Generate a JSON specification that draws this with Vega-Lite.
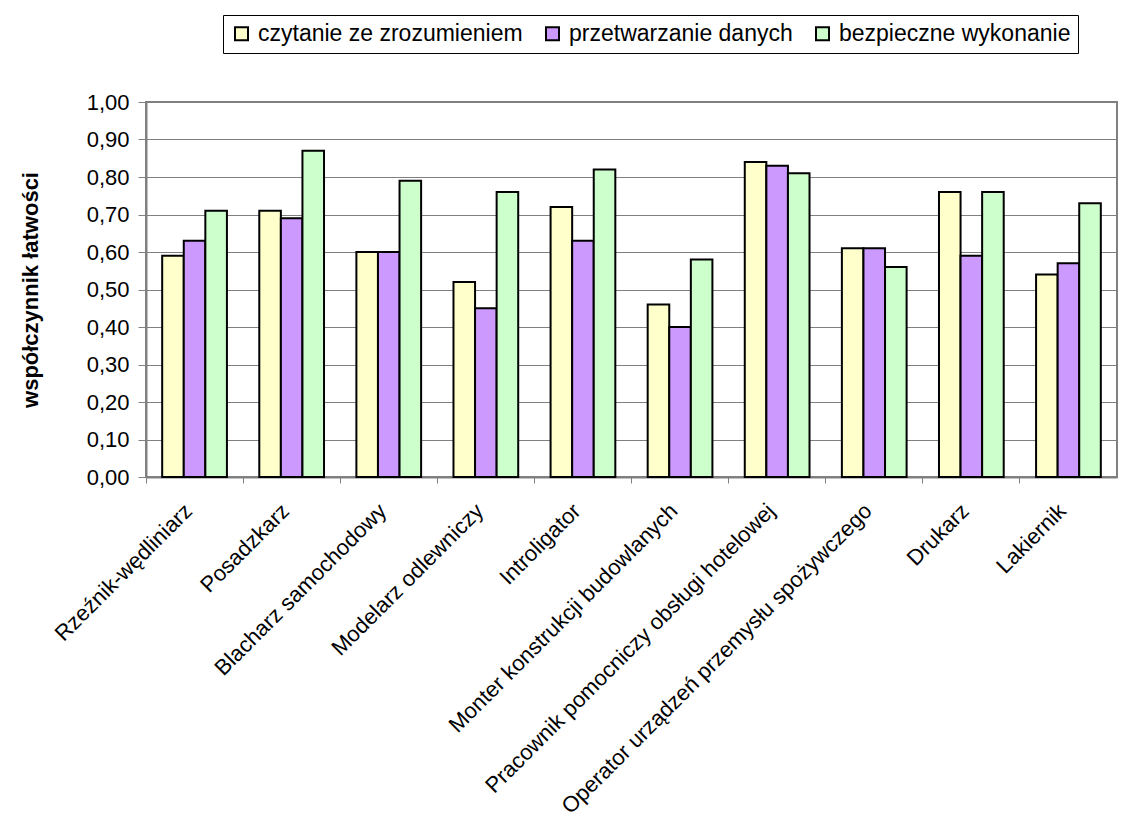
{
  "$schema": "https://vega.github.io/schema/vega-lite/v6.json",
  "autosize": {"type": "none"},
  "padding": {"left": 146, "top": 102, "right": 10, "bottom": 344},
  "width": 971,
  "height": 375,
  "background": "white",
  "data": {
    "values": [
      {"zawod": "Rzeźnik-wędliniarz", "seria": "czytanie ze zrozumieniem", "wartosc": 0.59},
      {"zawod": "Rzeźnik-wędliniarz", "seria": "przetwarzanie danych", "wartosc": 0.63},
      {"zawod": "Rzeźnik-wędliniarz", "seria": "bezpieczne wykonanie", "wartosc": 0.71},
      {"zawod": "Posadzkarz", "seria": "czytanie ze zrozumieniem", "wartosc": 0.71},
      {"zawod": "Posadzkarz", "seria": "przetwarzanie danych", "wartosc": 0.69},
      {"zawod": "Posadzkarz", "seria": "bezpieczne wykonanie", "wartosc": 0.87},
      {"zawod": "Blacharz samochodowy", "seria": "czytanie ze zrozumieniem", "wartosc": 0.60},
      {"zawod": "Blacharz samochodowy", "seria": "przetwarzanie danych", "wartosc": 0.60},
      {"zawod": "Blacharz samochodowy", "seria": "bezpieczne wykonanie", "wartosc": 0.79},
      {"zawod": "Modelarz odlewniczy", "seria": "czytanie ze zrozumieniem", "wartosc": 0.52},
      {"zawod": "Modelarz odlewniczy", "seria": "przetwarzanie danych", "wartosc": 0.45},
      {"zawod": "Modelarz odlewniczy", "seria": "bezpieczne wykonanie", "wartosc": 0.76},
      {"zawod": "Introligator", "seria": "czytanie ze zrozumieniem", "wartosc": 0.72},
      {"zawod": "Introligator", "seria": "przetwarzanie danych", "wartosc": 0.63},
      {"zawod": "Introligator", "seria": "bezpieczne wykonanie", "wartosc": 0.82},
      {"zawod": "Monter konstrukcji budowlanych", "seria": "czytanie ze zrozumieniem", "wartosc": 0.46},
      {"zawod": "Monter konstrukcji budowlanych", "seria": "przetwarzanie danych", "wartosc": 0.40},
      {"zawod": "Monter konstrukcji budowlanych", "seria": "bezpieczne wykonanie", "wartosc": 0.58},
      {"zawod": "Pracownik pomocniczy obsługi hotelowej", "seria": "czytanie ze zrozumieniem", "wartosc": 0.84},
      {"zawod": "Pracownik pomocniczy obsługi hotelowej", "seria": "przetwarzanie danych", "wartosc": 0.83},
      {"zawod": "Pracownik pomocniczy obsługi hotelowej", "seria": "bezpieczne wykonanie", "wartosc": 0.81},
      {"zawod": "Operator urządzeń przemysłu spożywczego", "seria": "czytanie ze zrozumieniem", "wartosc": 0.61},
      {"zawod": "Operator urządzeń przemysłu spożywczego", "seria": "przetwarzanie danych", "wartosc": 0.61},
      {"zawod": "Operator urządzeń przemysłu spożywczego", "seria": "bezpieczne wykonanie", "wartosc": 0.56},
      {"zawod": "Drukarz", "seria": "czytanie ze zrozumieniem", "wartosc": 0.76},
      {"zawod": "Drukarz", "seria": "przetwarzanie danych", "wartosc": 0.59},
      {"zawod": "Drukarz", "seria": "bezpieczne wykonanie", "wartosc": 0.76},
      {"zawod": "Lakiernik", "seria": "czytanie ze zrozumieniem", "wartosc": 0.54},
      {"zawod": "Lakiernik", "seria": "przetwarzanie danych", "wartosc": 0.57},
      {"zawod": "Lakiernik", "seria": "bezpieczne wykonanie", "wartosc": 0.73}
    ]
  },
  "mark": {"type": "bar", "stroke": "black", "strokeWidth": 2},
  "encoding": {
    "x": {
      "field": "zawod",
      "type": "nominal",
      "sort": null,
      "scale": {"paddingInner": 0.3333, "paddingOuter": 0.1667},
      "axis": {
        "title": null,
        "labelAngle": -45,
        "labelAlign": "right",
        "labelBaseline": "middle",
        "labelFont": "Liberation Sans",
        "labelFontSize": 22,
        "labelColor": "black",
        "labelPadding": 24,
        "labelOffset": -6,
        "labelLimit": 600,
        "labelOverlap": false,
        "bandPosition": -0.25,
        "tickSize": 6,
        "tickColor": "#808080",
        "tickWidth": 1,
        "domainColor": "#808080",
        "domainWidth": 2,
        "grid": false
      }
    },
    "xOffset": {
      "field": "seria",
      "type": "nominal",
      "sort": ["czytanie ze zrozumieniem", "przetwarzanie danych", "bezpieczne wykonanie"],
      "scale": {"paddingInner": 0, "paddingOuter": 0}
    },
    "y": {
      "field": "wartosc",
      "type": "quantitative",
      "scale": {"domain": [0, 1], "nice": false},
      "axis": {
        "title": "współczynnik łatwości",
        "titleFont": "Liberation Sans",
        "titleFontSize": 22,
        "titleFontWeight": "bold",
        "titleColor": "black",
        "titlePadding": 44,
        "values": [0, 0.1, 0.2, 0.3, 0.4, 0.5, 0.6, 0.7, 0.8, 0.9, 1.0],
        "labelExpr": "replace(format(datum.value, '.2f'), '.', ',')",
        "labelFont": "Liberation Sans",
        "labelFontSize": 22,
        "labelColor": "black",
        "labelPadding": 9,
        "tickSize": 8,
        "tickColor": "#808080",
        "tickWidth": 1,
        "domainColor": "#808080",
        "domainWidth": 2,
        "grid": true,
        "gridColor": "#808080",
        "gridWidth": 1
      }
    },
    "fill": {
      "field": "seria",
      "type": "nominal",
      "sort": ["czytanie ze zrozumieniem", "przetwarzanie danych", "bezpieczne wykonanie"],
      "scale": {
        "domain": ["czytanie ze zrozumieniem", "przetwarzanie danych", "bezpieczne wykonanie"],
        "range": ["#FFFFCC", "#CC99FF", "#CCFFCC"]
      },
      "legend": {
        "title": null,
        "orient": "none",
        "direction": "horizontal",
        "legendX": 77,
        "legendY": -87,
        "strokeColor": "black",
        "fillColor": "white",
        "padding": 7,
        "labelFont": "Liberation Sans",
        "labelFontSize": 23,
        "labelColor": "black",
        "labelOffset": 5,
        "labelLimit": 500,
        "symbolType": "square",
        "symbolSize": 169,
        "symbolStrokeColor": "black",
        "symbolStrokeWidth": 2,
        "columnPadding": 18
      }
    }
  },
  "config": {
    "view": {"stroke": "#808080", "strokeWidth": 2},
    "font": "Liberation Sans"
  }
}
